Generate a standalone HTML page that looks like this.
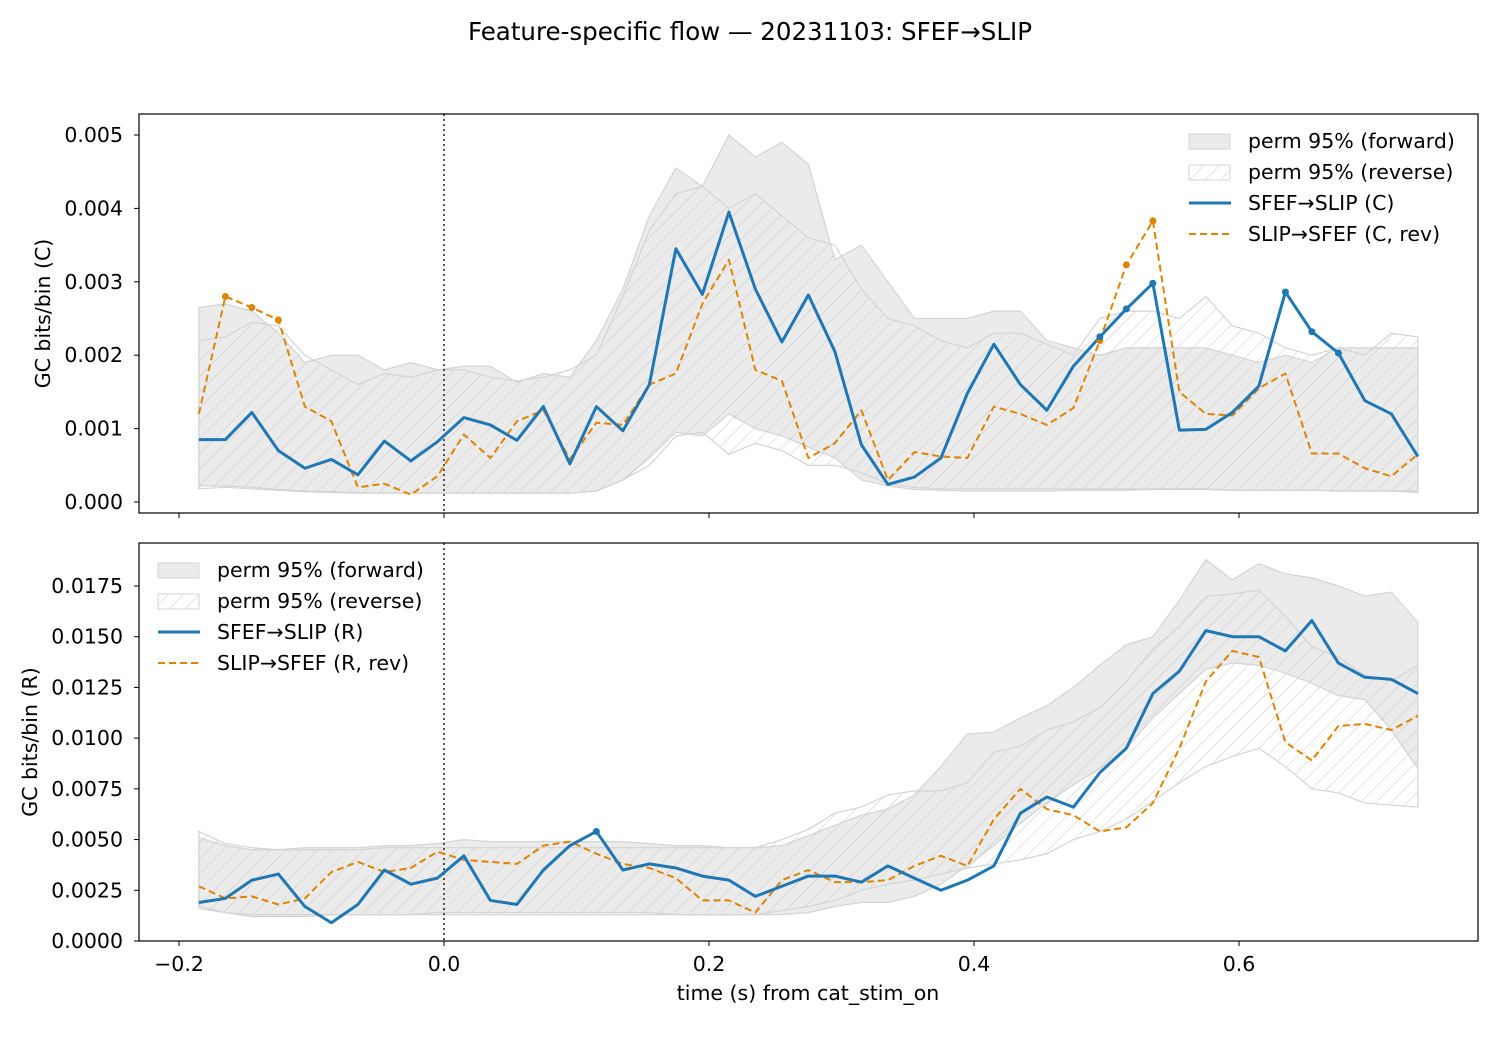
<!DOCTYPE html>
<html><head><meta charset="utf-8"><style>
body{margin:0;background:#fff;}
svg text{font-family:"DejaVu Sans","Liberation Sans",sans-serif;fill:#000;}
</style></head><body>
<svg id="chart" width="1500" height="1050" viewBox="0 0 1500 1050" xmlns="http://www.w3.org/2000/svg">
<defs>
<pattern id="hatch" patternUnits="userSpaceOnUse" width="11" height="11" patternTransform="rotate(45)">
<line x1="0" y1="0" x2="0" y2="11" stroke="#c8c8c8" stroke-width="1"/>
</pattern>
<clipPath id="clipTop"><rect x="139" y="114" width="1339" height="399"/></clipPath>
<clipPath id="clipBot"><rect x="139" y="543" width="1339" height="398"/></clipPath>
</defs>
<text x="750" y="40" font-size="24.5" text-anchor="middle">Feature-specific flow — 20231103: SFEF→SLIP</text>
<g id="top"></g><g id="bot"></g>
</svg>
<script>
const times=[];for(let i=0;i<47;i++)times.push(-0.185+0.02*i);
const cFwd=[0.00085,0.00085,0.00122,0.0007,0.00046,0.00058,0.00037,0.00083,0.00056,0.00082,0.00115,0.00105,0.00084,0.0013,0.00052,0.0013,0.00097,0.0016,0.00345,0.00283,0.00395,0.0029,0.00218,0.00282,0.00205,0.00078,0.00024,0.00034,0.0006,0.00148,0.00215,0.0016,0.00125,0.00185,0.00225,0.00263,0.00298,0.00098,0.00099,0.00122,0.00158,0.00286,0.00232,0.00203,0.00138,0.0012,0.00062];
const cRev=[0.0012,0.0028,0.00265,0.00248,0.0013,0.0011,0.0002,0.00025,0.0001,0.00035,0.00092,0.0006,0.0011,0.00125,0.00058,0.00108,0.00105,0.0016,0.00175,0.0027,0.0033,0.0018,0.00165,0.0006,0.0008,0.00125,0.0003,0.00068,0.00062,0.0006,0.0013,0.0012,0.00105,0.00128,0.0022,0.00323,0.00383,0.0015,0.0012,0.00118,0.00155,0.00175,0.00066,0.00066,0.00046,0.00035,0.00065];
const cFwdHi=[0.00265,0.0027,0.0026,0.0023,0.0019,0.002,0.002,0.0018,0.0019,0.0018,0.00185,0.00185,0.00163,0.00175,0.0017,0.0022,0.0029,0.0039,0.00455,0.0043,0.005,0.0047,0.0049,0.0046,0.0033,0.0035,0.003,0.0025,0.0025,0.0025,0.0026,0.0026,0.0022,0.0021,0.002,0.0021,0.0021,0.0021,0.0021,0.002,0.0019,0.002,0.0019,0.0021,0.0021,0.0021,0.0021];
const cFwdLo=[0.00022,0.00022,0.0002,0.00017,0.00015,0.00014,0.00013,0.00012,0.00012,0.00012,0.00012,0.00012,0.00012,0.00012,0.00012,0.00015,0.0003,0.0006,0.00095,0.0009,0.0012,0.001,0.0009,0.00075,0.0006,0.0003,0.00022,0.00017,0.00016,0.00015,0.00015,0.00015,0.00015,0.00016,0.00016,0.00016,0.00017,0.00017,0.00017,0.00016,0.00016,0.00016,0.00016,0.00015,0.00015,0.00015,0.00015];
const cRevHi=[0.0022,0.00225,0.00245,0.0024,0.002,0.0018,0.0016,0.00175,0.0017,0.0018,0.0018,0.0017,0.00165,0.0017,0.0018,0.002,0.0028,0.0037,0.0042,0.0043,0.004,0.0042,0.0039,0.0036,0.0035,0.0029,0.0025,0.0024,0.0022,0.0021,0.0023,0.0023,0.00215,0.002,0.0025,0.0026,0.0026,0.0025,0.0028,0.0024,0.0023,0.0021,0.002,0.0021,0.002,0.0023,0.00225];
const cRevLo=[0.00018,0.0002,0.00018,0.00016,0.00014,0.00013,0.00012,0.00012,0.00012,0.00012,0.00012,0.00012,0.00012,0.00012,0.00012,0.00015,0.0003,0.0005,0.0009,0.00095,0.00065,0.0008,0.0007,0.0005,0.0005,0.0004,0.00025,0.0002,0.00018,0.00018,0.00018,0.00018,0.00018,0.00018,0.00018,0.00018,0.00018,0.00018,0.00018,0.00016,0.00016,0.00016,0.00016,0.00015,0.00015,0.00015,0.00013];
const cFwdSig=[34,35,36,41,42,43];
const cRevSig=[1,2,3,34,35,36];
const rFwd=[0.0019,0.0021,0.003,0.0033,0.0017,0.0009,0.0018,0.0035,0.0028,0.0031,0.0042,0.002,0.0018,0.0035,0.0047,0.0054,0.0035,0.0038,0.0036,0.0032,0.003,0.0022,0.0027,0.0032,0.0032,0.0029,0.0037,0.0031,0.0025,0.003,0.0037,0.0063,0.0071,0.0066,0.0083,0.0095,0.0122,0.0133,0.0153,0.015,0.015,0.0143,0.0158,0.0137,0.013,0.0129,0.0122];
const rRev=[0.0027,0.0021,0.0022,0.0018,0.0021,0.0034,0.0039,0.0034,0.0036,0.0044,0.004,0.0039,0.0038,0.0047,0.0049,0.0043,0.0038,0.0036,0.0031,0.002,0.002,0.0014,0.003,0.0035,0.0029,0.0029,0.003,0.0037,0.0042,0.0037,0.006,0.0075,0.0065,0.0062,0.0054,0.0056,0.0068,0.0095,0.0128,0.0143,0.014,0.0098,0.0089,0.0106,0.0107,0.0104,0.0111];
const rFwdHi=[0.0051,0.0047,0.0045,0.0045,0.0046,0.0046,0.0046,0.0047,0.0047,0.0048,0.005,0.0049,0.0049,0.0049,0.0049,0.0049,0.0049,0.0048,0.0047,0.0047,0.0046,0.0046,0.0047,0.0052,0.0057,0.0062,0.0065,0.0072,0.0086,0.0102,0.0103,0.011,0.0116,0.0125,0.0136,0.0146,0.015,0.0168,0.0188,0.0178,0.0186,0.0181,0.0179,0.0175,0.017,0.0172,0.0157];
const rFwdLo=[0.0017,0.0014,0.0012,0.0012,0.0012,0.0013,0.0013,0.0013,0.0013,0.0014,0.0014,0.0014,0.0014,0.0014,0.0014,0.0014,0.0014,0.0014,0.0013,0.0013,0.0013,0.0013,0.0013,0.0014,0.0017,0.0019,0.0019,0.0022,0.0028,0.0037,0.0047,0.0058,0.0068,0.0077,0.0085,0.0095,0.011,0.0122,0.0134,0.0137,0.0136,0.0132,0.0127,0.0121,0.0119,0.0104,0.0085];
const rRevHi=[0.0054,0.0048,0.0046,0.0045,0.0045,0.0045,0.0045,0.0046,0.0046,0.0046,0.0046,0.0046,0.0046,0.0046,0.0046,0.0046,0.0046,0.0046,0.0046,0.0046,0.0046,0.0046,0.005,0.0055,0.0063,0.0066,0.0072,0.0074,0.0074,0.0078,0.0093,0.0096,0.0104,0.0108,0.0115,0.0128,0.0144,0.0155,0.017,0.0171,0.0173,0.016,0.0145,0.014,0.0131,0.0128,0.0136];
const rRevLo=[0.0016,0.0014,0.0013,0.0013,0.0013,0.0013,0.0013,0.0013,0.0013,0.0013,0.0013,0.0013,0.0013,0.0013,0.0013,0.0013,0.0013,0.0013,0.0013,0.0013,0.0013,0.0013,0.0015,0.0017,0.002,0.0025,0.0028,0.003,0.0033,0.0036,0.0038,0.004,0.0043,0.005,0.0054,0.006,0.0069,0.0078,0.0086,0.0091,0.0095,0.0086,0.0075,0.0073,0.0068,0.0067,0.0066];
const rFwdSig=[15];
const rRevSig=[];
const xTicks=[-0.2,0,0.2,0.4,0.6];
const xTickLabels=["−0.2","0.0","0.2","0.4","0.6"];
const topTicks=[0,0.001,0.002,0.003,0.004,0.005];
const topTickLabels=["0.000","0.001","0.002","0.003","0.004","0.005"];
const botTicks=[0,0.0025,0.005,0.0075,0.01,0.0125,0.015,0.0175];
const botTickLabels=["0.0000","0.0025","0.0050","0.0075","0.0100","0.0125","0.0150","0.0175"];

const NS="http://www.w3.org/2000/svg";
const L=139,R=1478;
const FS=20.5;
const X=t=>444+t*1325;
function mk(p,tag,at){const e=document.createElementNS(NS,tag);for(const k in at)e.setAttribute(k,at[k]);p.appendChild(e);return e;}
function band(g,lo,hi,Y,fill,name){
  let d="M"+times.map((t,i)=>X(t)+","+Y(hi[i])).join("L");
  for(let i=times.length-1;i>=0;i--)d+="L"+X(times[i])+","+Y(lo[i]);
  d+="Z";
  const e=mk(g,"path",{d:d,fill:fill,stroke:"#d4d4d4","stroke-width":1.2});
  
  
}
function line(g,vals,Y,color,dash,name){
  const e=mk(g,"polyline",{points:times.map((t,i)=>X(t)+","+Y(vals[i])).join(" "),fill:"none",stroke:color,"stroke-width":dash?2:3,"stroke-dasharray":dash?"7,4":"none","stroke-linejoin":"round"});
  
  
}
function marks(g,vals,sig,Y,color,name){
  sig.forEach(i=>{const c=mk(g,"circle",{cx:X(times[i]),cy:Y(vals[i]),r:3.5,fill:color});
  
  });
}
function panel(id,top,bot,y0,yMaxPx,vmax,ticks,tickLabels,d,ylabel,ylx,showX,legendX,legendY,lab,clip){
  const g0=document.getElementById(id);
  const Y=v=>y0-(v/vmax)*(y0-yMaxPx);
  const g=mk(g0,"g",{"clip-path":"url(#"+clip+")"});
  band(g,d.fLo,d.fHi,Y,"#ebebeb","forward-perm-band");
  band(g,d.rLo,d.rHi,Y,"url(#hatch)","reverse-perm-band");
  const vl=mk(g,"line",{x1:X(0),x2:X(0),y1:top,y2:bot,stroke:"#000","stroke-width":1.3,"stroke-dasharray":"2,3"});
  
  
  line(g,d.rev,Y,"#dd8400",true,"reverse-flow-line");
  line(g,d.fwd,Y,"#1f77b4",false,"forward-flow-line");
  marks(g,d.rev,d.revSig,Y,"#dd8400","reverse-sig-marker");
  marks(g,d.fwd,d.fwdSig,Y,"#1f77b4","forward-sig-marker");
  const fr=mk(g0,"rect",{x:L,y:top,width:R-L,height:bot-top,fill:"none",stroke:"#000","stroke-width":1.2});
  
  
  ticks.forEach((v,i)=>{const y=Y(v);mk(g0,"line",{x1:L-5,x2:L,y1:y,y2:y,stroke:"#000"});
    const t=mk(g0,"text",{x:L-16,y:y+7,"font-size":FS,"text-anchor":"end"});t.textContent=tickLabels[i];
    
    });
  xTicks.forEach((v,i)=>{const x=X(v);mk(g0,"line",{x1:x,x2:x,y1:bot,y2:bot+5,stroke:"#000"});
    if(showX){const t=mk(g0,"text",{x:x,y:bot+30,"font-size":FS,"text-anchor":"middle"});t.textContent=xTickLabels[i];
    
    }});
  const yl=mk(g0,"text",{x:0,y:0,"font-size":FS,"text-anchor":"middle",transform:`translate(${ylx},${(top+bot)/2}) rotate(-90)`});yl.textContent=ylabel;
  
  
  const items=[["perm 95% (forward)","fill"],["perm 95% (reverse)","hatch"],[lab[0],"solid"],[lab[1],"dash"]];
  items.forEach((it,k)=>{const y=legendY+k*31;
    if(it[1]==="fill")mk(g0,"rect",{x:legendX,y:y-7,width:41,height:15,fill:"#ebebeb",stroke:"#d4d4d4"});
    if(it[1]==="hatch")mk(g0,"rect",{x:legendX,y:y-7,width:41,height:15,fill:"url(#hatch)",stroke:"#d4d4d4"});
    if(it[1]==="solid")mk(g0,"line",{x1:legendX,x2:legendX+42,y1:y,y2:y,stroke:"#1f77b4","stroke-width":3});
    if(it[1]==="dash")mk(g0,"line",{x1:legendX,x2:legendX+42,y1:y,y2:y,stroke:"#dd8400","stroke-width":2,"stroke-dasharray":"7,4"});
    const t=mk(g0,"text",{x:legendX+59,y:y+7,"font-size":FS});t.textContent=it[0];
    
    });
}
panel("top",114,513,502,135,0.005,topTicks,topTickLabels,{fLo:cFwdLo,fHi:cFwdHi,rLo:cRevLo,rHi:cRevHi,fwd:cFwd,rev:cRev,fwdSig:cFwdSig,revSig:cRevSig},"GC bits/bin (C)",50,false,1189,141,["SFEF→SLIP (C)","SLIP→SFEF (C, rev)"],"clipTop");
panel("bot",543,941,941,586,0.0175,botTicks,botTickLabels,{fLo:rFwdLo,fHi:rFwdHi,rLo:rRevLo,rHi:rRevHi,fwd:rFwd,rev:rRev,fwdSig:rFwdSig,revSig:rRevSig},"GC bits/bin (R)",37,true,158,570,["SFEF→SLIP (R)","SLIP→SFEF (R, rev)"],"clipBot");
const xl=mk(document.getElementById("bot"),"text",{x:808,y:1000,"font-size":FS,"text-anchor":"middle"});xl.textContent="time (s) from cat_stim_on";


</script>
</body></html>
